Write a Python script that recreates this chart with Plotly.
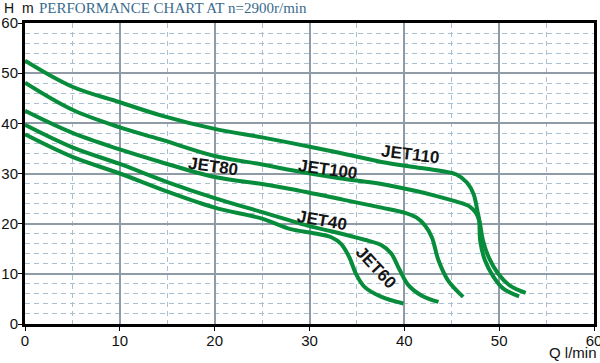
import plotly.graph_objects as go

# ---- data (Q in l/min, H in m) ----
jet110_q = [0, 5, 10, 14.3, 20, 25, 28, 33, 37.6, 41, 43.9, 45.5, 46.6, 47.3, 47.7, 47.9, 48.0, 48.5, 49.4, 50.4, 52.1]
jet110_h = [52.5, 47.3, 44.2, 41.6, 38.9, 37.2, 36.1, 34.2, 32.3, 31.3, 30.5, 29.8, 28.2, 25.9, 22.6, 20.6, 16.6, 12.7, 9.4, 7.1, 5.5]

jet100_q = [0, 5, 10, 14.3, 20, 25, 28, 33, 37.6, 41, 43.2, 45.5, 46.9, 47.6, 47.9, 48.3, 48.9, 49.9, 51.1, 52.8]
jet100_h = [48.1, 42.7, 39.2, 36.8, 33.5, 31.8, 30.7, 29.1, 27.9, 26.6, 25.6, 24.4, 23.4, 22.0, 20.6, 16.6, 13.3, 10.0, 7.7, 6.2]

jet80_q = [0, 5, 10, 14.3, 20, 25, 28, 33.5, 37.6, 40, 41.3, 42.2, 42.9, 43.6, 44.6, 46.2]
jet80_h = [42.5, 38.1, 34.8, 32.3, 29.3, 27.9, 26.9, 24.8, 23.2, 22.2, 21.2, 19.6, 17.3, 12.7, 8.7, 5.4]

jet40_q = [0, 5, 10, 15, 20, 25, 28, 30.2, 32.3, 35.8, 37.6, 38.6, 39.5, 40.4, 41.8, 43.6]
jet40_h = [39.7, 35.2, 31.9, 28.3, 25.1, 22.3, 20.6, 19.4, 18.5, 16.8, 15.7, 14.1, 10.8, 7.8, 5.7, 4.4]

jet60_q = [0, 5, 10, 15, 20, 25, 28, 30.2, 32.3, 33.3, 34.2, 34.9, 35.8, 37.6, 39.9]
jet60_h = [37.8, 33.3, 30.0, 26.4, 23.2, 21.0, 18.9, 18.2, 17.3, 16.0, 13.3, 10.0, 7.4, 5.4, 4.1]

series = [
    ("JET110", jet110_q, jet110_h),
    ("JET100", jet100_q, jet100_h),
    ("JET80", jet80_q, jet80_h),
    ("JET40", jet40_q, jet40_h),
    ("JET60", jet60_q, jet60_h),
]

# label placement
label_names = ["JET110", "JET100", "JET80", "JET40", "JET60"]
label_q = [40.7, 31.9, 19.8, 31.3, 37.0]
label_h = [33.8, 30.8, 31.3, 20.7, 11.3]
label_angle = [7, 8, 8, 10, 47]

tick_vals = [0, 10, 20, 30, 40, 50, 60]

GREEN = "#078c3b"

fig = go.Figure()
for name, q, h in series:
    fig.add_trace(go.Scatter(
        x=q, y=h, mode="lines", name=name,
        line=dict(color=GREEN, width=4, shape="spline", smoothing=1.0),
        hoverinfo="skip", showlegend=False,
    ))

for n, q, h, a in zip(label_names, label_q, label_h, label_angle):
    fig.add_annotation(
        x=q, y=h, text="<b>" + n + "</b>", showarrow=False, textangle=a,
        xanchor="center", yanchor="middle",
        font=dict(family="Liberation Sans, Arial", size=17, color="#151515"),
    )

# header texts
fig.add_annotation(
    xref="paper", yref="paper", x=-0.0404, y=1.0500, xanchor="left", yanchor="middle",
    text="H\u00a0\u00a0m", showarrow=False,
    font=dict(family="Liberation Sans, Arial", size=14, color="#111111"),
)
fig.add_annotation(
    xref="paper", yref="paper", x=(37 - 25) / 569, y=1.0500, xanchor="left", yanchor="middle",
    text="PERFORMANCE CHART AT n=2900r/min", showarrow=False,
    font=dict(family="Liberation Serif, Times New Roman", size=15, color="#3a6a8c"),
)
fig.add_annotation(
    xref="paper", yref="paper", x=(599 - 25) / 569, y=-0.0963, xanchor="right", yanchor="middle",
    text="Q l/min", showarrow=False,
    font=dict(family="Liberation Sans, Arial", size=15, color="#111111"),
)

axis_common = dict(
    range=[0, 60], tickvals=tick_vals, ticktext=[str(v) for v in tick_vals],
    showline=True, linewidth=3, linecolor="#000000", mirror=True,
    ticks="outside", ticklen=4, tickwidth=1, tickcolor="#000000",
    showgrid=True, gridcolor="#8f9ca8", gridwidth=1.5,
    zeroline=False, automargin=False, ticklabelstandoff=-3,
    ticklabeloverflow="allow",
    tickfont=dict(family="Liberation Sans, Arial", size=15, color="#111111"),
)

fig.update_xaxes(**axis_common,
                 minor=dict(dtick=5, tick0=0, showgrid=True, gridcolor="#a9bfd2",
                            griddash="5px,4px", gridwidth=1, ticks=""))
fig.update_yaxes(**axis_common,
                 minor=dict(dtick=2, tick0=0, showgrid=True, gridcolor="#a9bfd2",
                            griddash="5px,4px", gridwidth=1, ticks=""))

fig.update_layout(
    width=600, height=363,
    margin=dict(l=25, r=6, t=23, b=39),
    paper_bgcolor="#ffffff", plot_bgcolor="#ffffff",
    showlegend=False,
)

fig.write_html("out.html", config={"displayModeBar": False},
               post_script="document.body.style.margin='0';document.body.style.overflow='hidden';")
